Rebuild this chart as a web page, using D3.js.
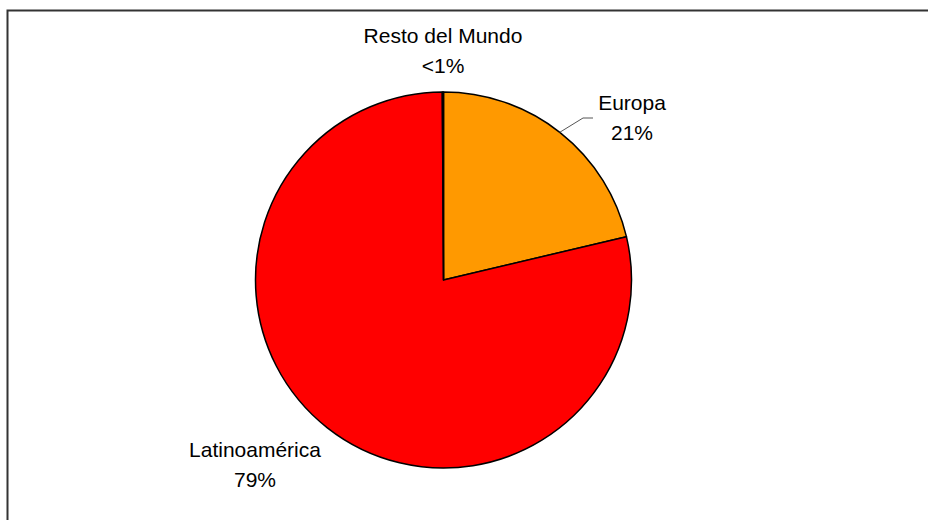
<!DOCTYPE html>
<html>
<head>
<meta charset="utf-8">
<script src="https://cdn.jsdelivr.net/npm/d3@7"></script>
<style>
  html, body { margin: 0; background: white; overflow: hidden; }
  svg { display: block; }
  text { font-family: "Liberation Sans", Arial, sans-serif; fill: #000; }
</style>
</head>
<body>
<div id="root"></div>
<script>
// slices, clockwise from 12 o'clock
var regions = ["Europa", "Latinoamérica", "Resto del Mundo"];
var shares = [21.3, 78.6, 0.1];
var shareLabels = ["21%", "79%", "<1%"];
var colors = ["#FF9900", "#FF0000", "#FF0000"];

var w = 928, h = 520;
var cx = 443.5, cy = 280, r = 188;

var data = regions.map(function(d, i) {
  return { name: d, value: shares[i], label: shareLabels[i], color: colors[i] };
});

var svg = d3.select("#root").append("svg").attr("width", w).attr("height", h);

// frame (runs off right and bottom)
svg.append("path")
  .attr("d", "M7.5," + (h + 5) + "V10.5H" + (w + 5))
  .attr("fill", "none").attr("stroke", "#333").attr("stroke-width", 2);

var pie = d3.pie().sort(null).value(function(d) { return d.value; });
var arc = d3.arc().innerRadius(0).outerRadius(r);
var arcs = pie(data);

var g = svg.append("g").attr("transform", "translate(" + cx + "," + cy + ")");
g.selectAll("path.slice").data(arcs).enter().append("path")
  .attr("class", "slice")
  .attr("d", arc)
  .attr("fill", function(d) { return d.data.color; })
  .attr("stroke", "#000").attr("stroke-width", 1.5).attr("stroke-linejoin", "round");

// labels: [x, first baseline]
var labelPos = {
  "Europa": [632, 110],
  "Latinoamérica": [255, 457],
  "Resto del Mundo": [443, 43]
};
data.forEach(function(d) {
  var p = labelPos[d.name];
  var t = svg.append("text").attr("text-anchor", "middle").style("font-size", "21px");
  t.append("tspan").attr("x", p[0]).attr("y", p[1]).text(d.name);
  t.append("tspan").attr("x", p[0]).attr("y", p[1] + 30).text(d.label);
});

// leader line for Europa, from the pie edge
var ex = cx + Math.sin(0.667) * r, ey = cy - Math.cos(0.667) * r;
svg.append("polyline")
  .attr("points", [[ex, ey], [583, 118], [593, 118]].map(function(p) { return p.join(","); }).join(" "))
  .attr("fill", "none").attr("stroke", "#555").attr("stroke-width", 1);
</script>
</body>
</html>
